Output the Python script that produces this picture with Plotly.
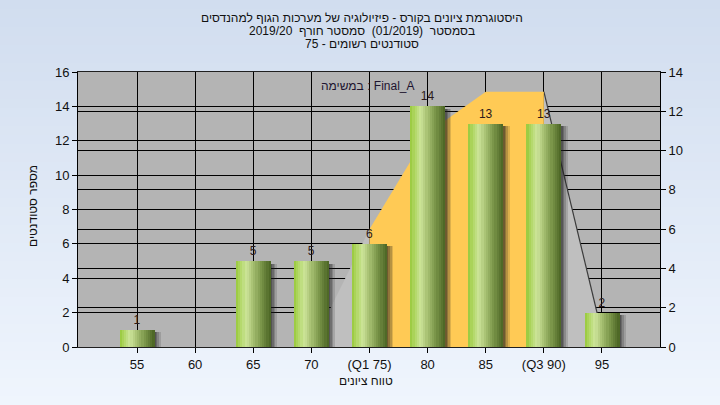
import plotly.graph_objects as go

# ---------------- data ----------------
categories = ["55", "60", "65", "70", "(Q1 75)", "80", "85", "(Q3 90)", "95"]
counts = [1, 0, 5, 5, 6, 14, 13, 13, 2]

# background area (right axis)
area_left_x = ["70", "(Q1 75)"]
area_left_y = [0, 6]
area_mid_x = ["(Q1 75)", "80", "85", "(Q3 90)"]
area_mid_y = [6, 10.9, 13, 13]
area_right_x = ["(Q3 90)", "95"]
area_right_y = [13, 0.7]

title_lines = [
    "היסטוגרמת ציונים בקורס - פיזיולוגיה של מערכות הגוף למהנדסים",
    "בסמסטר  (01/2019)  סמסטר חורף  2019/20",
    "סטודנטים רשומים - 75",
]
assignment_label = "במשימה : Final_A"
x_title = "טווח ציונים"
y_title = "מספר סטודנטים"

left_ticks = [0, 2, 4, 6, 8, 10, 12, 14, 16]
right_ticks = [0, 2, 4, 6, 8, 10, 12, 14]

# ---------------- styling ----------------
W, H = 720, 405
ML, MR, MT, MB = 78, 60, 72, 58
PW, PH = W - ML - MR, H - MT - MB
FONT = "Liberation Sans, Arial, sans-serif"
BAR_W = 0.6


def px_x(x):
    return (x - ML) / PW


def px_y(y):
    return (H - MB - y) / PH


def lerp_hex(c1, c2, t):
    a = [int(c1[i:i + 2], 16) for i in (1, 3, 5)]
    b = [int(c2[i:i + 2], 16) for i in (1, 3, 5)]
    return "rgb(%d,%d,%d)" % tuple(round(a[k] + (b[k] - a[k]) * t) for k in range(3))


stops = [(0.0, "#96c83a"), (0.12, "#afd662"), (0.3, "#cde49a"),
         (0.48, "#a9c274"), (0.72, "#7b964a"), (1.0, "#4a6323")]


def grad(t):
    for (t0, c0), (t1, c1) in zip(stops[:-1], stops[1:]):
        if t0 <= t <= t1:
            return lerp_hex(c0, c1, (t - t0) / (t1 - t0))
    return stops[-1][1]


fig = go.Figure()

# background areas on the right axis (main y)
fig.add_trace(go.Scatter(x=area_left_x, y=area_left_y, yaxis="y", fill="tozeroy",
                         mode="lines", line=dict(width=0, color="#bfbfbf"),
                         fillcolor="#bfbfbf", hoverinfo="skip", showlegend=False))
fig.add_trace(go.Scatter(x=area_right_x, y=area_right_y, yaxis="y", fill="tozeroy",
                         mode="lines", line=dict(width=1.2, color="#3c3c3c"),
                         fillcolor="#bfbfbf", hoverinfo="skip", showlegend=False))
fig.add_trace(go.Scatter(x=area_mid_x, y=area_mid_y, yaxis="y", fill="tozeroy",
                         mode="lines", line=dict(width=0, color="#ffca55"),
                         fillcolor="#ffca55", hoverinfo="skip", showlegend=False))

# shadows of bars (left axis y2)
for k, (dx, alpha) in enumerate([(0.11, 0.15), (0.08, 0.2), (0.05, 0.25), (0.025, 0.3)]):
    fig.add_trace(go.Bar(x=categories, y=[max(c - 0.15, 0) if c else 0 for c in counts],
                         yaxis="y2", width=BAR_W, offset=-BAR_W / 2 + dx,
                         marker=dict(color="rgba(30,30,30,%.2f)" % alpha, line=dict(width=0)),
                         hoverinfo="skip", showlegend=False))

# gradient slices of bars
N = 16
sw = BAR_W / N
for i in range(N):
    t = (i + 0.5) / N
    fig.add_trace(go.Bar(x=categories, y=counts, yaxis="y2", width=sw * 1.05,
                         offset=-BAR_W / 2 + i * sw,
                         marker=dict(color=grad(t), line=dict(width=0)),
                         hoverinfo="skip", showlegend=False))

# transparent bar carrying the labels
fig.add_trace(go.Bar(x=categories, y=counts, yaxis="y2", width=BAR_W,
                     marker=dict(color="rgba(0,0,0,0)", line=dict(width=0)),
                     text=[str(c) if c else "" for c in counts], textposition="outside",
                     textfont=dict(family=FONT, size=12, color="#2b1a1a"),
                     cliponaxis=False, showlegend=False))

# background gradient of the page + plot background
shapes = []
NB = 45
y_top, y_bot = px_y(0), px_y(H)
for i in range(NB):
    t = i / (NB - 1)
    ya = y_top + (y_bot - y_top) * i / NB
    yb = y_top + (y_bot - y_top) * (i + 1) / NB
    shapes.append(dict(type="rect", xref="paper", yref="paper", x0=px_x(0), x1=px_x(W),
                       y0=yb - 0.002, y1=ya, fillcolor=lerp_hex("#d1ddef", "#eff5fd", t),
                       line=dict(width=0), layer="below"))
shapes.append(dict(type="rect", xref="paper", yref="paper", x0=0, x1=1, y0=0, y1=1,
                   fillcolor="#b4b4b4", line=dict(width=0), layer="below"))

annotations = []
for ypx, line in zip([18, 31, 44], title_lines):
    annotations.append(dict(text=line, xref="paper", yref="paper", x=px_x(362), y=px_y(ypx),
                            xanchor="center", yanchor="middle", showarrow=False,
                            font=dict(family=FONT, size=12, color="#111111")))
annotations.append(dict(text=assignment_label, xref="paper", yref="paper",
                        x=px_x(368), y=px_y(86), xanchor="center", yanchor="middle",
                        showarrow=False, font=dict(family=FONT, size=12, color="#1e1430")))
annotations.append(dict(text=x_title, xref="paper", yref="paper",
                        x=px_x(366), y=px_y(381), xanchor="center", yanchor="middle",
                        showarrow=False, font=dict(family=FONT, size=12, color="#111111")))
annotations.append(dict(text=y_title, xref="paper", yref="paper", textangle=-90,
                        x=px_x(33), y=px_y(206), xanchor="center", yanchor="middle",
                        showarrow=False, font=dict(family=FONT, size=12, color="#111111")))

fig.update_layout(
    width=W, height=H,
    margin=dict(l=ML, r=MR, t=MT, b=MB, pad=0),
    paper_bgcolor="#e2ebf7",
    plot_bgcolor="rgba(0,0,0,0)",
    barmode="overlay",
    bargap=0,
    shapes=shapes,
    annotations=annotations,
    showlegend=False,
    xaxis=dict(type="category", categoryorder="array", categoryarray=categories,
               range=[-1.015, 8.998], showgrid=True, gridcolor="#000000", gridwidth=1,
               showline=True, linecolor="#202020", linewidth=1, mirror=True,
               ticks="outside", ticklen=5, tickcolor="#000000",
               tickfont=dict(family=FONT, size=13, color="#111111"),
               zeroline=False, fixedrange=True),
    yaxis=dict(range=[0, 14], tickvals=right_ticks, side="right",
               showgrid=True, gridcolor="#000000", gridwidth=1,
               showline=True, linecolor="#000000", linewidth=1,
               ticks="outside", ticklen=5, tickcolor="#000000",
               tickfont=dict(family=FONT, size=13, color="#111111"),
               zeroline=False),
    yaxis2=dict(range=[0, 16], tickvals=left_ticks, side="left", overlaying="y",
                showgrid=True, gridcolor="#000000", gridwidth=1,
                showline=True, linecolor="#000000", linewidth=1,
                ticks="outside", ticklen=5, tickcolor="#000000",
                tickfont=dict(family=FONT, size=13, color="#111111"),
                zeroline=False),
)

fig.write_html("out.html",
               config={"displayModeBar": False, "staticPlot": True},
               post_script="document.body.style.margin='0';document.body.style.overflow='hidden';")
